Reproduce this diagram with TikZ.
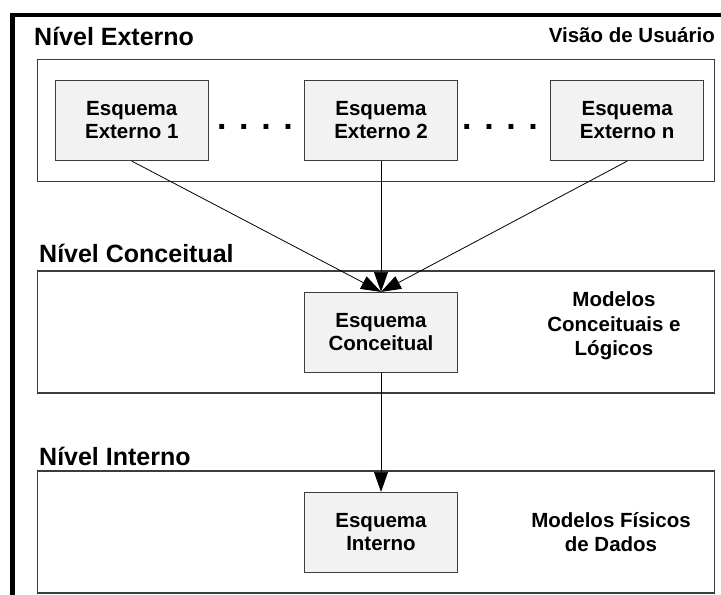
\documentclass[tikz,border=0pt]{standalone}
\usepackage{fontspec}
\setmainfont{Liberation Sans}
\usepackage{xcolor}
\usetikzlibrary{arrows.meta,positioning}
\definecolor{boxfill}{RGB}{242,242,242}
\definecolor{linegray}{RGB}{60,60,60}
\tikzset{%
	nivel/.style    = {draw=linegray, line width=1.2pt, fill=white, rectangle, minimum width=677pt, minimum height=122pt}, % Nivel
	esquema/.style  = {draw=linegray, line width=1.2pt, fill=boxfill, rectangle, minimum width=153pt, minimum height=80pt, align=center, font=\fontsize{20.5}{23}\selectfont\bfseries}, % Esquema
	titulo/.style   = {anchor=base west, inner sep=0pt, font=\fontsize{25}{28}\selectfont\bfseries}, % Titulo
	nota/.style     = {align=center, inner sep=0pt, font=\fontsize{20.5}{24.5}\selectfont\bfseries}, % Nota
	pontos/.style   = {inner sep=0pt, font=\fontsize{34}{34}\selectfont\bfseries}, % Reticencias
	arrow/.style    = {line width=0.8pt, -{Triangle[length=20pt,width=14pt]}},
}
\begin{document}
\begin{tikzpicture}[x=1pt,y=-1pt]
	\useasboundingbox (0,0) rectangle (721,595);
	\draw[line width=4.8pt] (12.5,595) -- (12.5,15) -- (721,15);
	\node[nivel] (ext) at (376,120.5) {};
	\node[nivel] (con) at (376,332) {};
	\node[nivel] (int) at (376,532) {};
	\node[titulo] (tExt) at (34,45) {Nível Externo};
	\node[titulo] (tCon) at (39,262) {Nível Conceitual};
	\node[titulo] (tInt) at (39,465) {Nível Interno};
	\node[titulo,anchor=base east,font=\fontsize{20.5}{24}\selectfont\bfseries] (visao) at (715,42) {Visão de Usuário};
	\node[esquema] (e2) at (381,120.5) {Esquema\\Externo 2};
	\node[esquema,left=95pt of e2] (e1) {Esquema\\Externo 1};
	\node[esquema,right=92pt of e2] (en) {Esquema\\Externo n};
	\node[pontos] (p1) at (255,127) {. . . .};
	\node[pontos] (p2) at (500,127) {. . . .};
	\node[esquema] (conc) at (381,332.5) {Esquema\\Conceitual};
	\node[esquema] (eint) at (381,532.5) {Esquema\\Interno};
	\node[nota] (mcl) at (614,326) {Modelos\\Conceituais e\\Lógicos};
	\node[nota] (mfd) at (611,532) {Modelos Físicos\\de Dados};
	\draw[arrow] (e1.south) -- (conc.north);
	\draw[arrow] (e2.south) -- (conc.north);
	\draw[arrow] (en.south) -- (conc.north);
	\draw[arrow] (conc.south) -- (eint.north);
\end{tikzpicture}
\end{document}
